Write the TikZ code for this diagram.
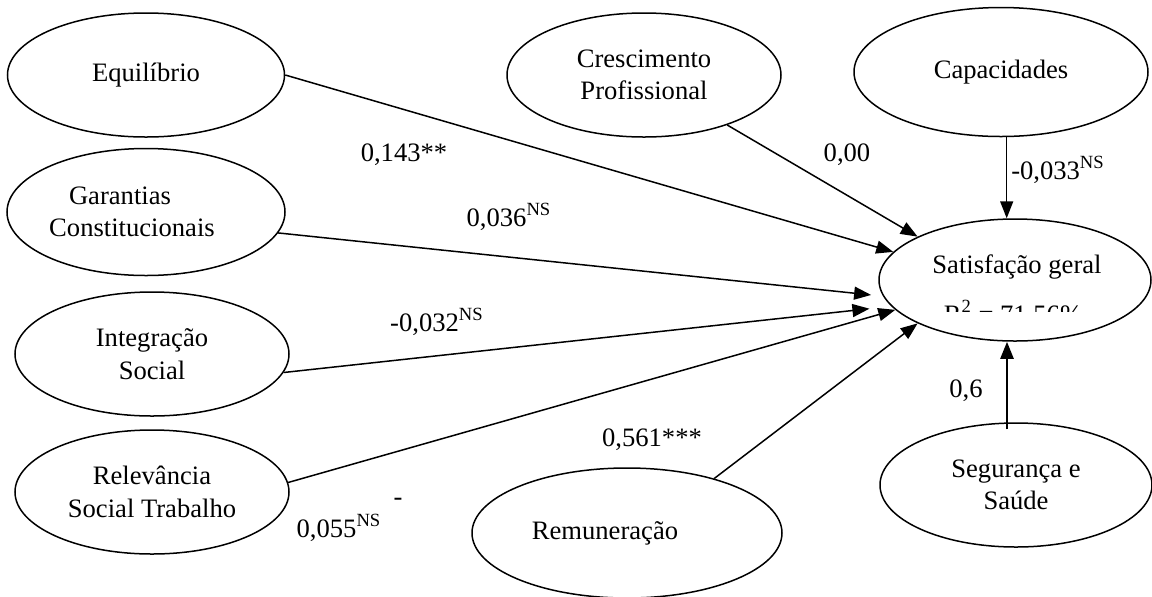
\documentclass[tikz,border=0pt]{standalone}
\usepackage{fontspec}
\setmainfont{Liberation Serif}
\usetikzlibrary{calc, arrows.meta, shapes.geometric}

\tikzset{
	latent/.style={draw, ellipse, line width=0.75pt, inner sep=0pt, align=center,
		minimum width=137pt, minimum height=62pt},
	causal/.style={-{Triangle[length=8.5pt, width=6.5pt]}, line width=0.75pt},
	coef/.style={anchor=base, inner sep=0pt},
}

\begin{document}
\begin{tikzpicture}[x=0.5pt, y=-0.5pt, font=\fontsize{13.3pt}{16.3pt}\selectfont]
			\useasboundingbox (0,0) rectangle (1152,596);
			% constructos
			\node[latent, minimum width=138.5pt] (equi) at (146,75) {Equilíbrio};
			\node[latent, minimum width=139pt, minimum height=63.5pt] (gar) at (146,212) {Garantias\hspace*{26pt}\\Constitucionais\hspace*{14pt}};
			\node[latent] (integ) at (152,354) {Integração\\Social};
			\node[latent] (relev) at (152,492) {Relevância\\Social Trabalho};
			\node[latent] (cresc) at (644,75) {Crescimento\\Profissional};
			\node[latent, minimum width=147pt, minimum height=64.5pt] (cap) at (1001,72) {Capacidades};
			\node[latent, minimum width=155pt, minimum height=65pt] (remun) at (627,533) {Remuneração\hspace*{22pt}};
			\node[latent, minimum width=136pt] (seg) at (1016,485) {Segurança e\\Saúde};
			\node[latent, minimum width=136pt, minimum height=61pt] (sat) at (1015,280) {};
			\node (satname) at (1017,267) {Satisfação geral};
			\begin{scope}
				\clip (930,290) rectangle (1100,311);
				\node[anchor=base] (rsq) at (1013,323) {R\textsuperscript{2} = 71,56\%};
			\end{scope}

			% caminhos
			\draw[causal] (equi.east) -- (sat.167);
			\draw[causal] (cresc.-31) -- (sat.156);
			\draw[causal, shorten >=6pt] (gar.-9) -- (sat.187);
			\draw[causal, shorten >=11pt] (integ.-8) -- (sat.192);
			\draw[causal] (relev.4) -- (sat.194);
			\draw[causal] (remun.32) -- (sat.204);
			\draw[causal] (cap.-85) -- (cap.-85 |- sat.north);
			\coordinate (segtop) at ($(seg.north)+(-9,7)$);
			\draw[causal, line width=1.2pt] (segtop) -- (segtop |- sat.south);

			% coeficientes
			\node[coef] (c143) at (404,161) {0,143**};
			\node[coef] (c036) at (509,226) {0,036\textsuperscript{NS}};
			\node[coef] (c032) at (437,331) {-0,032\textsuperscript{NS}};
			\node[coef] (c055) at (339,537) {0,055\textsuperscript{NS}};
			\node[coef] (cdash) at (398,505) {-};
			\node[coef] (c561) at (652,446) {0,561***};
			\node[coef] (c000) at (847,161) {0,00};
			\node[coef] (c033) at (1058,179) {-0,033\textsuperscript{NS}};
			\node[coef] (c06) at (966,397) {0,6};
		\end{tikzpicture}
\end{document}
